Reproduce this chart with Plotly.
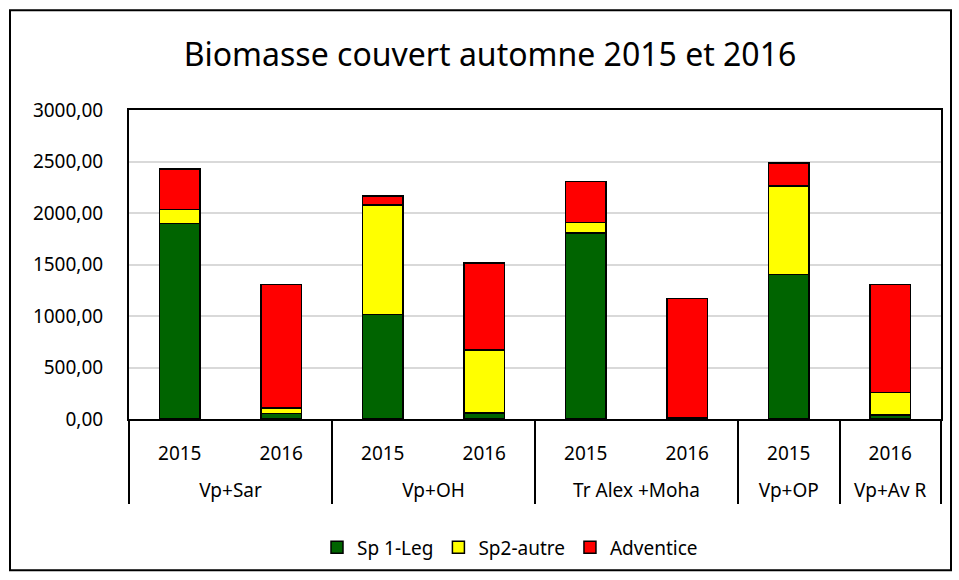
import plotly.graph_objects as go

# Données (kg MS/ha)
couverts = ["Vp+Sar", "Vp+Sar", "Vp+OH", "Vp+OH", "Tr Alex +Moha", "Tr Alex +Moha", "Vp+OP", "Vp+Av R"]
annees = ["2015", "2016", "2015", "2016", "2015", "2016", "2015", "2016"]

sp1_leg = [1900, 55, 1015, 60, 1805, 10, 1405, 40]
sp2_autre = [135, 50, 1065, 610, 105, 5, 855, 215]
adventice = [390, 1200, 85, 845, 395, 1155, 225, 1050]

series = [
    ("Sp 1-Leg", sp1_leg, "#006400"),
    ("Sp2-autre", sp2_autre, "#FFFF00"),
    ("Adventice", adventice, "#FF0000"),
]

FONT = "Noto Sans"

# group labels pushed one line down so the two label rows sit further apart
couverts_lbl = ["<br>" + c for c in couverts]

fig = go.Figure()
for name, values, color in series:
    fig.add_trace(go.Bar(
        x=[couverts_lbl, annees],
        y=values,
        name=name,
        marker=dict(color=color, line=dict(color="black", width=1.5)),
    ))

W, H = 959, 580
left, right, top, bottom = 129, 941, 110, 419.5
pw, ph = right - left, bottom - top

def px_x(x):
    return (x - left) / pw

def px_y(y):
    return (bottom - y) / ph

fig.update_layout(
    width=W,
    height=H,
    barmode="stack",
    bargap=0.6,
    separators=", ",
    paper_bgcolor="white",
    plot_bgcolor="white",
    font=dict(family=FONT, size=19, color="black"),
    margin=dict(l=left, r=W - right, t=top, b=H - bottom, pad=0),
    title=dict(
        text="Biomasse couvert automne 2015 et 2016",
        font=dict(family=FONT, size=32, color="black"),
        xref="container", x=490 / W, xanchor="center",
        yref="container", y=1 - 55 / H, yanchor="middle",
    ),
    legend=dict(
        orientation="h",
        x=px_x(510), xanchor="center",
        y=px_y(548), yanchor="middle",
        font=dict(family=FONT, size=19),
        traceorder="normal",
        itemwidth=30,
    ),
    xaxis=dict(
        type="multicategory",
        showline=True, linecolor="black", linewidth=2,
        mirror=True,
        showdividers=True, dividercolor="black", dividerwidth=2,
        tickfont=dict(family=FONT, size=19),
        ticks="",
        ticklabelstandoff=16,
    ),
    yaxis=dict(
        range=[0, 3000],
        dtick=500,
        tickformat=".2f",
        showgrid=True, gridcolor="#d9d9d9", gridwidth=1.5,
        showline=True, linecolor="black", linewidth=2,
        mirror=True,
        ticks="",
        ticklabelstandoff=20,
        tickfont=dict(family=FONT, size=19),
        zeroline=False,
    ),
    shapes=[dict(
        type="rect", xref="paper", yref="paper",
        x0=px_x(10), x1=px_x(951), y0=px_y(571), y1=px_y(10),
        line=dict(color="black", width=2), fillcolor="rgba(0,0,0,0)",
        layer="below",
    )],
)

# drop the browser's default 8px body margin so the figure fills the window
fig.write_html(
    "out.html",
    config={"displayModeBar": False},
    post_script="document.body.style.margin = '0';",
)
